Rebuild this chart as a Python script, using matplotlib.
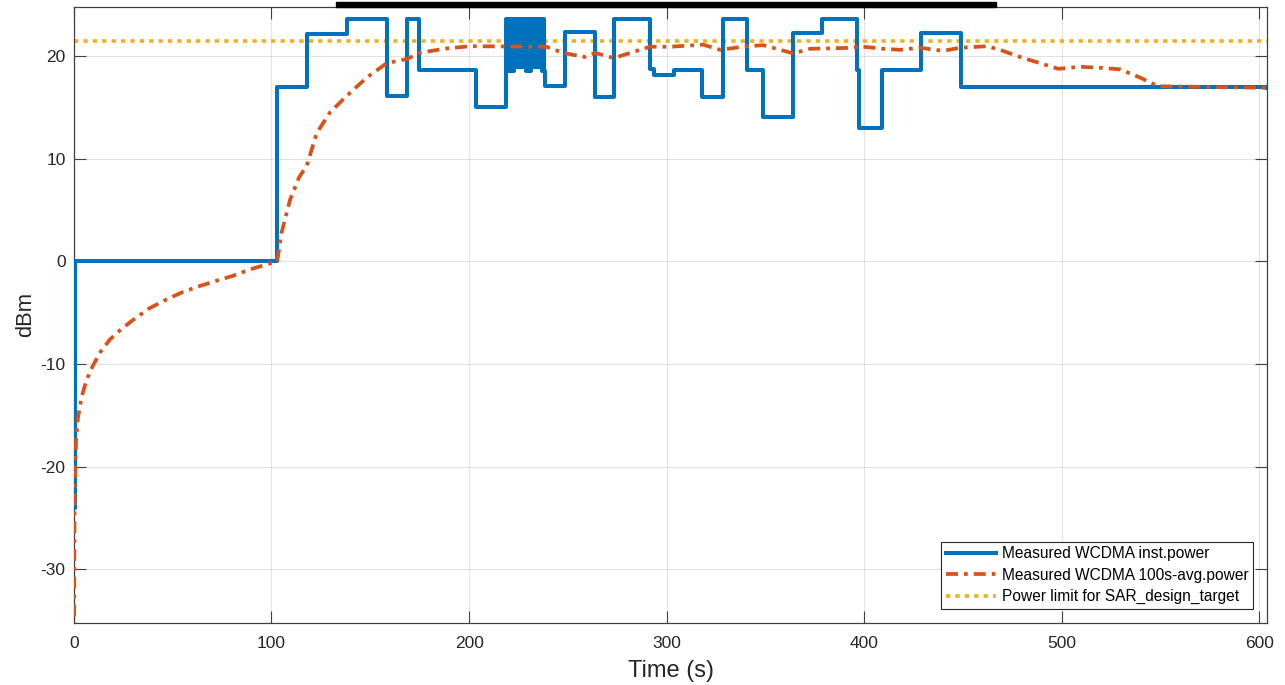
import matplotlib
matplotlib.use("Agg")
import matplotlib.pyplot as plt
import numpy as np
from matplotlib.patches import Rectangle

plt.rcParams['font.family'] = ['Liberation Sans', 'DejaVu Sans']
plt.rcParams['axes.unicode_minus'] = False

# ---------------- data ----------------
# instantaneous power: step changes (time s, level dBm held until next time)
inst_t = [0.0, 0.6, 102.9, 118.1, 138.4, 158.3, 168.4, 174.6, 203.3]
inst_v = [-24.0, 0.0, 17.0, 22.1, 23.6, 16.1, 23.6, 18.6, 15.0]

# fast toggling burst between ~218 s and ~238 s
burst_t = [218.5, 219.0, 219.5, 220.0, 220.5, 221.0, 221.5, 222.0, 222.5, 223.0,
           223.5, 224.0, 224.5, 225.0, 225.5, 226.0, 226.5, 227.0, 227.5, 228.0,
           228.5, 229.0, 229.5, 230.0, 230.5, 231.0, 231.5, 232.0, 232.5, 233.0,
           233.5, 234.0, 234.5, 235.0, 235.5, 236.0, 236.5, 237.0, 237.5, 238.0]
burst_v = [23.6, 18.5, 23.6, 18.5, 23.6, 18.5, 23.6, 18.5, 23.6, 18.9,
           23.6, 18.9, 23.6, 18.9, 23.6, 18.9, 23.6, 18.9, 23.6, 18.9,
           23.6, 18.5, 23.6, 18.5, 23.6, 18.5, 23.6, 18.9, 23.6, 18.9,
           23.6, 18.9, 23.6, 18.9, 23.6, 18.9, 23.6, 18.5, 23.6, 18.5]

inst_t2 = [238.6, 248.6, 263.7, 273.3, 291.5, 293.7, 303.7, 318.0, 328.6, 340.5,
           348.8, 363.8, 378.4, 396.1, 397.5, 409.1, 428.5, 448.8, 604.0]
inst_v2 = [17.1, 22.3, 16.0, 23.6, 18.7, 18.1, 18.6, 16.0, 23.6, 18.6,
           14.1, 22.2, 23.6, 18.6, 13.0, 18.6, 22.2, 17.0, 16.9]

# 100 s averaged power
avg_t = [0.0, 0.3, 1.1, 2.0, 3.9, 6.5, 9.8, 13.5, 18.3, 24.0, 30.0, 38.0, 47.0,
         55.0, 63.8, 72.0, 80.7, 89.0, 97.6, 102.9, 105.1, 109.4, 114.0, 117.8,
         122.9, 129.6, 138.0, 148.2, 158.3, 168.4, 175.2, 187.0, 200.4, 239.0,
         247.7, 258.6, 263.7, 273.3, 291.5, 301.6, 318.5, 327.0, 340.5, 348.9,
         364.1, 372.5, 394.4, 397.0, 409.6, 418.0, 428.2, 440.0, 448.4, 461.9,
         468.7, 478.8, 488.9, 498.2, 509.2, 519.3, 529.4, 539.5, 548.8, 604.0]
avg_v = [-40.0, -24.0, -17.4, -15.3, -13.2, -11.5, -10.1, -8.8, -7.6, -6.6,
         -5.7, -4.6, -3.7, -3.0, -2.4, -1.9, -1.4, -0.8, -0.3, 0.0, 2.8, 6.0,
         8.2, 9.3, 12.5, 14.5, 16.1, 17.9, 19.3, 19.7, 20.3, 20.7, 20.95, 20.9,
         20.3, 19.9, 20.3, 19.8, 20.9, 20.9, 21.1, 20.6, 20.95, 21.05, 20.25,
         20.7, 20.8, 20.95, 20.7, 20.6, 20.8, 20.5, 20.8, 20.95, 20.6, 19.9,
         19.3, 18.75, 18.95, 18.85, 18.7, 17.9, 17.05, 16.9]

limit_dbm = 21.5

labels = ["Measured WCDMA inst.power",
          "Measured WCDMA 100s-avg.power",
          "Power limit for SAR_design_target"]

x_ticks = [0, 100, 200, 300, 400, 500, 600]
y_ticks = [-30, -20, -10, 0, 10, 20]

# ---------------- figure ----------------
fig = plt.figure(figsize=(12.85, 6.85), dpi=100)
ax = fig.add_axes([73.9 / 1285, 1 - 622.7 / 685, 1193.5 / 1285, 616 / 685])

blue = '#0072BD'
orange = '#D95319'
yellow = '#EDB120'

all_t = inst_t + burst_t + inst_t2
all_v = inst_v + burst_v + inst_v2
ax.plot(all_t, all_v, drawstyle='steps-post', color=blue, lw=2.9,
        label=labels[0], zorder=3)
ax.plot(avg_t, avg_v, color=orange, lw=2.7, linestyle=(0, (3.2, 1.6, 1.0, 1.6)),
        dash_capstyle='butt', label=labels[1], zorder=4)
ax.axhline(limit_dbm, color=yellow, lw=2.6, linestyle=(0, (1.2, 1.4)),
           label=labels[2], zorder=2)

ax.set_xlim(0, 604)
ax.set_ylim(-35.2, 24.8)
ax.set_xticks(x_ticks)
ax.set_yticks(y_ticks)

ax.grid(True, color='#262626', alpha=0.13, lw=0.8)
ax.set_axisbelow(True)
for s in ax.spines.values():
    s.set_color('#404040')
    s.set_linewidth(0.9)
ax.tick_params(direction='in', length=8.6, width=0.8, color='#404040',
               top=True, right=True, labelsize=12.5, labelcolor='#262626')
ax.tick_params(axis='x', pad=9.8)
ax.tick_params(axis='y', pad=5.9)

ax.set_xlabel('Time (s)', fontsize=17, color='#262626', labelpad=6.5)
ax.set_ylabel('dBm', fontsize=15.8, color='#262626', labelpad=3)

leg = ax.legend(loc='lower right', bbox_to_anchor=(0.988, 0.022), borderaxespad=0,
                fontsize=11.2, handlelength=3.2, handletextpad=0.4,
                labelspacing=0.42, borderpad=0.3, fancybox=False, framealpha=1)
leg.get_frame().set_edgecolor('#262626')
leg.get_frame().set_linewidth(0.8)

# title underline remnant (title cut off at top edge)
fig.add_artist(Rectangle((336 / 1285, 1 - 6.5 / 685), 660 / 1285, 4.5 / 685,
                         transform=fig.transFigure, color='black', zorder=10))

fig.savefig('out.png', dpi=100)
